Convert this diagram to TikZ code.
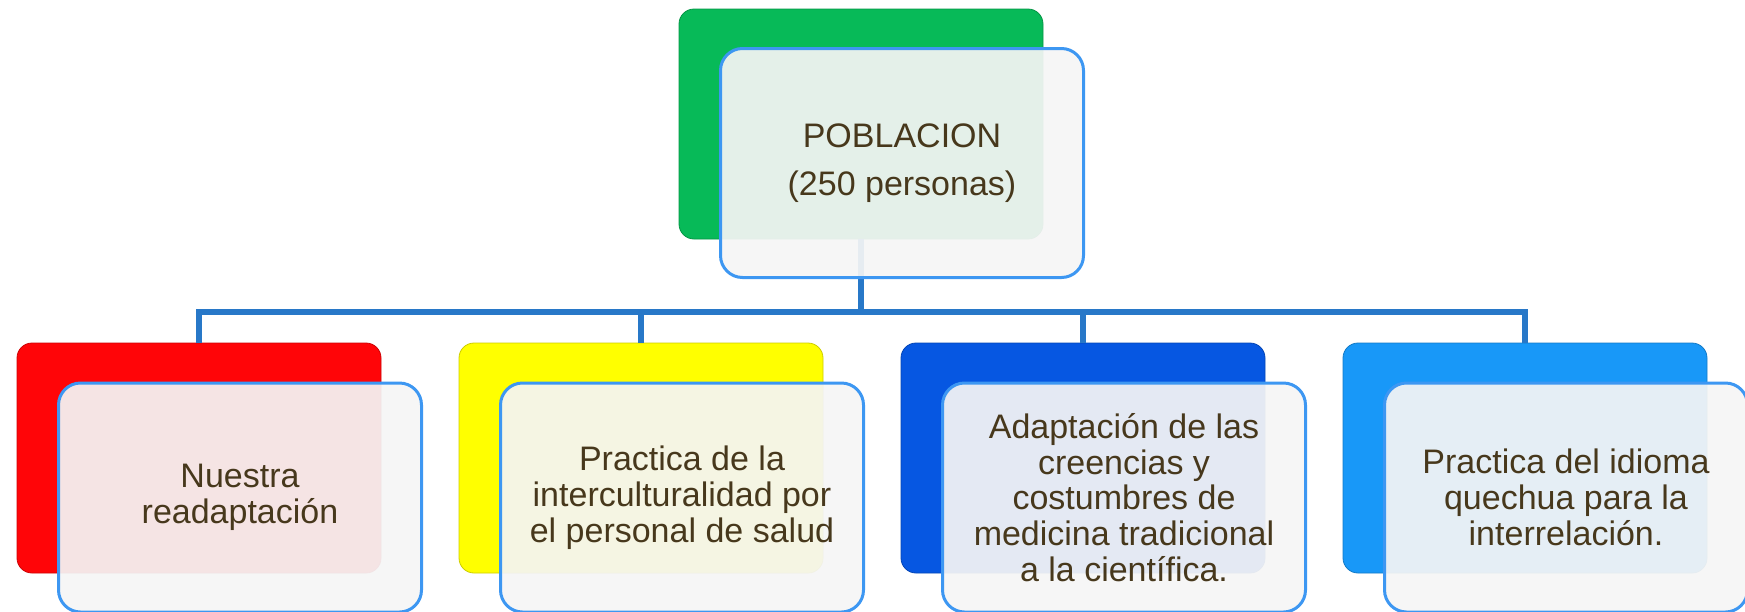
\documentclass[tikz,border=0pt]{standalone}
\usepackage{fontspec}
\setmainfont{Liberation Sans}
\begin{document}
\begin{tikzpicture}[x=1pt,y=-1pt,
  backbox/.style={rectangle, rounded corners=15pt, minimum width=364pt, minimum height=230pt, inner sep=0pt, draw=#1!80!black, line width=0.8pt, fill=#1},
  frontbox/.style={rectangle, rounded corners=22pt, minimum width=363pt, minimum height=229pt, inner sep=0pt,
     draw=frontline, line width=3pt, fill=frontfill, fill opacity=0.93, text opacity=1, draw opacity=1,
     text=txt, align=center, font=\fontsize{34}{35.7}\selectfont},
  conn/.style={draw=connc, line width=6pt, line join=miter}]
\definecolor{cgreen}{HTML}{07BA58}
\definecolor{cred}{HTML}{FF0508}
\definecolor{cyellow}{HTML}{FFFF00}
\definecolor{cdblue}{HTML}{0657E2}
\definecolor{clblue}{HTML}{1898F8}
\definecolor{frontline}{HTML}{3D97F2}
\definecolor{frontfill}{HTML}{F5F5F5}
\definecolor{txt}{HTML}{47381C}
\definecolor{connc}{HTML}{2878C8}
\useasboundingbox (0,0) rectangle (1745,611);
\coordinate (bus) at (0,312);
% back boxes
\node[backbox=cgreen] (top) at (861,124) {};
\node[backbox=cred] (b1) at (199,458) {};
\node[backbox=cyellow] (b2) at (641,458) {};
\node[backbox=cdblue] (b3) at (1083,458) {};
\node[backbox=clblue] (b4) at (1525,458) {};
% connectors
\draw[conn] (b1.north) -- (b1.north |- bus) -- (b4.north |- bus) -- (b4.north);
\draw[conn] (b2.north) -- (b2.north |- bus);
\draw[conn] (b3.north) -- (b3.north |- bus);
\draw[conn] (top.south) -- (top.south |- bus);
% front boxes
\node[frontbox, font=\fontsize{34}{48}\selectfont] (topf) at (902,163) {POBLACION\\(250 personas)};
\node[frontbox] (f1) at (240,497.5) {Nuestra\\readaptación};
\node[frontbox] (f2) at (682,497.5) {Practica de la\\interculturalidad por\\el personal de salud};
\node[frontbox] (f3) at (1124,497.5) {Adaptación de las\\creencias y\\costumbres de\\medicina tradicional\\a la científica.};
\node[frontbox] (f4) at (1566,497.5) {Practica del idioma\\quechua para la\\interrelación.};
\end{tikzpicture}
\end{document}
